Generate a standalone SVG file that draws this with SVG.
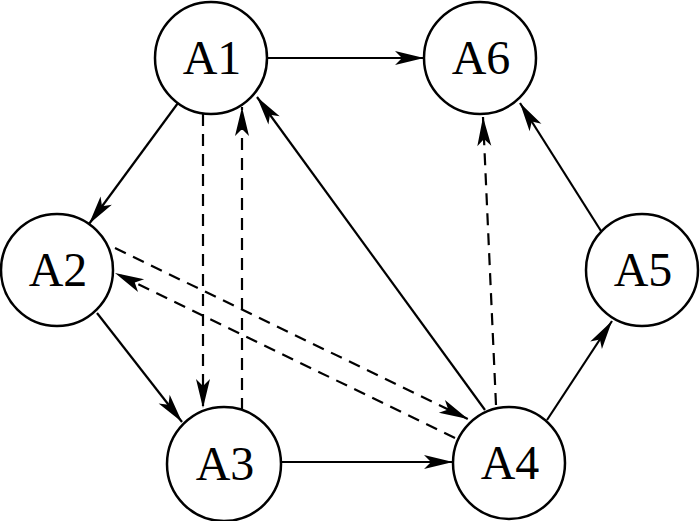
<svg xmlns="http://www.w3.org/2000/svg" width="700" height="521" viewBox="0 0 700 521">
<style>
.node circle{fill:#fff;stroke:#000;stroke-width:2.5}
.node text{font-family:"Liberation Serif","Times New Roman",serif;font-size:48px;text-anchor:middle;fill:#000}
.e{stroke:#000;stroke-width:2.2;fill:none}
.d{stroke-dasharray:12 8}
</style>
<defs>
<marker id="ah" markerUnits="userSpaceOnUse" markerWidth="32" markerHeight="18" viewBox="0 0 32 18" refX="30" refY="9" orient="auto">
<path d="M30,9 L1,2 L8,9 L1,16 Z" fill="#000"/>
</marker>
</defs>
<rect width="700" height="521" fill="#fff"/>
<g id="connectors">
<line class="e" x1="267" y1="58" x2="424" y2="58" marker-end="url(#ah)"/>
<line class="e" x1="178" y1="103" x2="89" y2="224" marker-end="url(#ah)"/>
<line class="e d" x1="203" y1="114" x2="203" y2="408" marker-end="url(#ah)"/>
<line class="e d" x1="242" y1="410" x2="242" y2="107" marker-end="url(#ah)"/>
<line class="e" x1="485" y1="410" x2="257" y2="97" marker-end="url(#ah)"/>
<line class="e" x1="97" y1="313" x2="182" y2="422" marker-end="url(#ah)"/>
<line class="e" x1="281" y1="462" x2="453" y2="462" marker-end="url(#ah)"/>
<line class="e d" x1="115" y1="248" x2="468" y2="419" marker-end="url(#ah)"/>
<line class="e d" x1="455" y1="438" x2="115" y2="273" marker-end="url(#ah)"/>
<line class="e d" x1="496" y1="405" x2="483" y2="117" marker-end="url(#ah)"/>
<line class="e" x1="547" y1="420" x2="612" y2="321" marker-end="url(#ah)"/>
<line class="e" x1="601" y1="231" x2="520" y2="103" marker-end="url(#ah)"/>
</g>
<g id="A1" class="node"><circle cx="211" cy="58" r="56"/><text x="212" y="74">A1</text></g>
<g id="A6" class="node"><circle cx="480" cy="58" r="56"/><text x="481" y="74">A6</text></g>
<g id="A2" class="node"><circle cx="57" cy="270" r="56"/><text x="58" y="286">A2</text></g>
<g id="A5" class="node"><circle cx="642" cy="270" r="56"/><text x="643" y="286">A5</text></g>
<g id="A3" class="node"><circle cx="224" cy="464" r="57"/><text x="225" y="480">A3</text></g>
<g id="A4" class="node"><circle cx="509" cy="463" r="56"/><text x="510" y="479">A4</text></g>
</svg>
